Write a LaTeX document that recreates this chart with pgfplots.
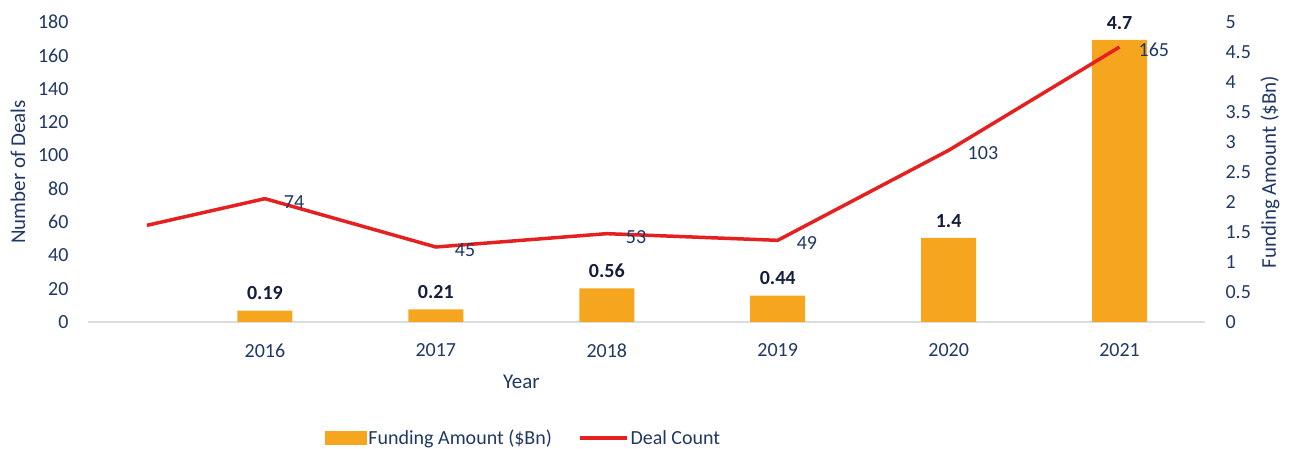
\documentclass[border=0pt]{standalone}
\usepackage{pgfplots}
\pgfplotsset{compat=1.18}
\usepackage{fontspec}
\setmainfont{Carlito}
\definecolor{barorange}{RGB}{246,166,30}
\definecolor{linered}{RGB}{228,32,32}
\definecolor{navy}{RGB}{31,56,100}
\definecolor{darknavy}{RGB}{20,30,60}
\definecolor{axisgray}{RGB}{217,220,226}
\pgfplotsset{/pgf/number format/assume math mode=true}
\begin{document}
\begin{tikzpicture}
\useasboundingbox (-88pt,-127pt) rectangle (1201pt,322pt);
% bars, right axis
\begin{axis}[
  at={(0pt,0pt)}, anchor=south west,
  scale only axis, width=1117pt, height=300pt,
  xmin=-0.035, xmax=6.5, ymin=0, ymax=5,
  axis y line*=right, axis x line*=bottom,
  y axis line style={draw=none},
  x axis line style={draw=axisgray, line width=1.5pt, -},
  xtick={1,2,3,4,5,6},
  xticklabels={2016,2017,2018,2019,2020,2021},
  major tick length=0pt,
  ytick={0,0.5,1,1.5,2,2.5,3,3.5,4,4.5,5},
  yticklabels={0,0.5,1,1.5,2,2.5,3,3.5,4,4.5,5},
  yticklabel style={anchor=west, xshift=17pt, font=\fontsize{20}{20}\selectfont, text=navy},
  xticklabel style={yshift=-18pt, font=\fontsize{20}{20}\selectfont, text=navy},
  ylabel={Funding Amount (\$Bn)},
  ylabel style={at={(rel axis cs:1,0.5)}, anchor=center, rotate=0, yshift=-65pt, font=\fontsize{21}{21}\selectfont, text=navy},
  xlabel={Year},
  xlabel style={at={(rel axis cs:0.388,0)}, anchor=center, yshift=-60pt, font=\fontsize{21}{21}\selectfont, text=navy},
  clip=false,
]
\addplot[ybar, bar width=55pt, fill=barorange, draw=none,
  nodes near coords={\textbf{\pgfplotspointmeta}},
  point meta=explicit symbolic,
  every node near coord/.append style={anchor=south, yshift=7pt, font=\fontsize{20}{20}\selectfont, text=darknavy}]
  table[meta=lab] {
x y lab
1 0.19 0.19
2 0.21 0.21
3 0.56 0.56
4 0.44 0.44
5 1.40 1.4
6 4.70 4.7
};
\end{axis}
% line, left axis
\begin{axis}[
  at={(0pt,0pt)}, anchor=south west,
  scale only axis, width=1117pt, height=300pt,
  xmin=-0.035, xmax=6.5, ymin=0, ymax=180,
  axis y line*=left, axis x line=none,
  y axis line style={draw=none},
  major tick length=0pt,
  ytick={0,20,...,180},
  yticklabel style={anchor=east, xshift=-16pt, font=\fontsize{20}{20}\selectfont, text=navy},
  ylabel={Number of Deals},
  ylabel style={at={(rel axis cs:0,0.5)}, anchor=center, yshift=70pt, font=\fontsize{21}{21}\selectfont, text=navy},
  clip=false,
  legend columns=2,
  legend style={at={(rel axis cs:0.39,-0.387)}, anchor=center, draw=none, fill=none,
    font=\fontsize{20}{20}\selectfont, text=navy,
    /tikz/every even column/.append style={column sep=24pt},
    nodes={inner xsep=2pt}},
]
\addlegendimage{legend image code/.code={\fill[barorange] (0pt,-6.5pt) rectangle (41pt,6.5pt);}}
\addlegendentry{Funding Amount (\$Bn)}
\addlegendimage{legend image code/.code={\draw[linered, line width=3.5pt] (0pt,0pt) -- (47pt,0pt);}}
\addlegendentry{Deal Count}
\addplot[linered, line width=3.5pt, mark=none,
  nodes near coords={\pgfplotspointmeta},
  point meta=explicit symbolic,
  every node near coord/.append style={anchor=west, xshift=14pt, yshift=-3pt, font=\fontsize{20}{20}\selectfont, text=navy}]
  table[meta=lab] {
x y lab
0.31 58 {}
1 74 74
2 45 45
3 53 53
4 49 49
5 103 103
6 165 165
};
\end{axis}
\end{tikzpicture}
\end{document}
